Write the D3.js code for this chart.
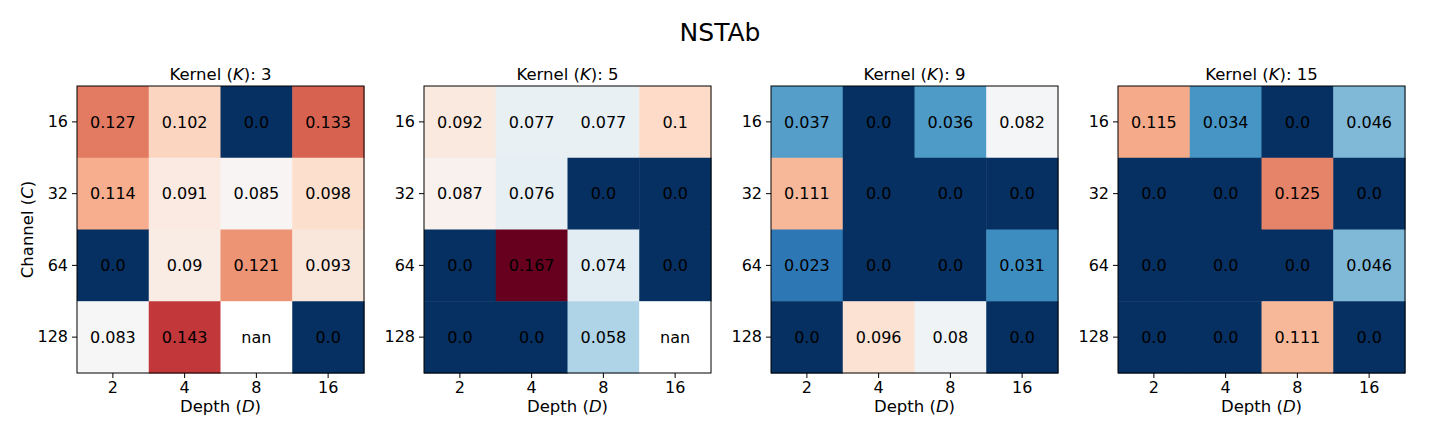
<!DOCTYPE html>
<html>
<head>
<meta charset="utf-8">
<script src="https://cdn.jsdelivr.net/npm/d3@7"></script>
<style>
  body { margin: 0; background: #fff; }
  text { font-family: "DejaVu Sans", sans-serif; fill: #000; }
</style>
</head>
<body>
<div id="chart"></div>
<script>
var depths = ["2", "4", "8", "16"];
var channels = ["16", "32", "64", "128"];
var kernels = ["3", "5", "9", "15"];

// rows = channels (16..128), columns = depths (2..16)
var k3 = [[0.127, 0.102, 0.0, 0.133],
          [0.114, 0.091, 0.085, 0.098],
          [0.0, 0.09, 0.121, 0.093],
          [0.083, 0.143, NaN, 0.0]];
var k5 = [[0.092, 0.077, 0.077, 0.1],
          [0.087, 0.076, 0.0, 0.0],
          [0.0, 0.167, 0.074, 0.0],
          [0.0, 0.0, 0.058, NaN]];
var k9 = [[0.037, 0.0, 0.036, 0.082],
          [0.111, 0.0, 0.0, 0.0],
          [0.023, 0.0, 0.0, 0.031],
          [0.0, 0.096, 0.08, 0.0]];
var k15 = [[0.115, 0.034, 0.0, 0.046],
           [0.0, 0.0, 0.125, 0.0],
           [0.0, 0.0, 0.0, 0.046],
           [0.0, 0.0, 0.111, 0.0]];
var grids = [k3, k5, k9, k15];

var w = 1440, h = 432;
var size = 287, plotTop = 86;
var lefts = [77, 424, 771, 1118];

var svg = d3.select("#chart").append("svg")
    .attr("width", w)
    .attr("height", h);

// RdBu reversed, piecewise linear like matplotlib
var rdbu = ["#053061", "#2166ac", "#4393c3", "#92c5de", "#d1e5f0", "#f7f7f7",
            "#fddbc7", "#f4a582", "#d6604d", "#b2182b", "#67001f"];
var vmax = d3.max(grids, function(g) { return d3.max(g, function(r) { return d3.max(r); }); });
var color = d3.scaleLinear()
    .domain(rdbu.map(function(c, i) { return i * vmax / (rdbu.length - 1); }))
    .range(rdbu)
    .interpolate(d3.interpolateRgb)
    .clamp(true);

function fmt(v) {
    if (isNaN(v)) return "nan";
    return Number.isInteger(v) ? v.toFixed(1) : String(v);
}

svg.append("text")
    .attr("x", w / 2)
    .attr("y", 41)
    .attr("text-anchor", "middle")
    .style("font-size", "25px")
    .text("NSTAb");

grids.forEach(function(grid, k) {
    var g = svg.append("g").attr("transform", "translate(" + lefts[k] + "," + plotTop + ")");

    var x = d3.scaleBand().domain(depths).range([0, size]);
    var y = d3.scaleBand().domain(channels).range([0, size]);

    var cells = [];
    grid.forEach(function(row, i) {
        row.forEach(function(v, j) {
            cells.push({ c: channels[i], d: depths[j], v: v });
        });
    });

    g.selectAll("rect.cell")
        .data(cells)
        .enter().append("rect")
        .attr("class", "cell")
        .attr("x", function(d) { return x(d.d); })
        .attr("y", function(d) { return y(d.c); })
        .attr("width", x.bandwidth() + 0.5)
        .attr("height", y.bandwidth() + 0.5)
        .attr("fill", function(d) { return isNaN(d.v) ? "#ffffff" : color(d.v); });

    g.selectAll("text.val")
        .data(cells)
        .enter().append("text")
        .attr("class", "val")
        .attr("x", function(d) { return x(d.d) + x.bandwidth() / 2; })
        .attr("y", function(d) { return y(d.c) + y.bandwidth() / 2; })
        .attr("dy", "0.36em")
        .attr("text-anchor", "middle")
        .style("font-size", "16px")
        .text(function(d) { return fmt(d.v); });

    g.append("rect")
        .attr("width", size)
        .attr("height", size)
        .attr("fill", "none")
        .attr("stroke", "#000")
        .attr("stroke-width", 1);

    var xAxis = g.append("g")
        .attr("transform", "translate(0," + size + ")")
        .call(d3.axisBottom(x).tickSize(5).tickPadding(4).tickSizeOuter(0));
    var yAxis = g.append("g")
        .call(d3.axisLeft(y).tickSize(5).tickPadding(4).tickSizeOuter(0));
    [xAxis, yAxis].forEach(function(a) {
        a.select(".domain").remove();
        a.selectAll("text").style("font-size", "16px").attr("fill", "#000").style("font-family", "DejaVu Sans");
        a.selectAll("line").attr("stroke", "#000");
    });

    var t = g.append("text")
        .attr("x", size / 2)
        .attr("y", -6)
        .attr("text-anchor", "middle")
        .style("font-size", "16.5px");
    t.append("tspan").text("Kernel (");
    t.append("tspan").style("font-style", "italic").text("K");
    t.append("tspan").text("): " + kernels[k]);

    var xl = g.append("text")
        .attr("x", size / 2)
        .attr("y", size + 39)
        .attr("text-anchor", "middle")
        .style("font-size", "16.5px");
    xl.append("tspan").text("Depth (");
    xl.append("tspan").style("font-style", "italic").text("D");
    xl.append("tspan").text(")");

    if (k === 0) {
        var yl = g.append("text")
            .attr("transform", "translate(-44," + (size / 2) + ") rotate(-90)")
            .attr("text-anchor", "middle")
            .style("font-size", "16.5px");
        yl.append("tspan").text("Channel (");
        yl.append("tspan").style("font-style", "italic").text("C");
        yl.append("tspan").text(")");
    }
});
</script>
</body>
</html>
